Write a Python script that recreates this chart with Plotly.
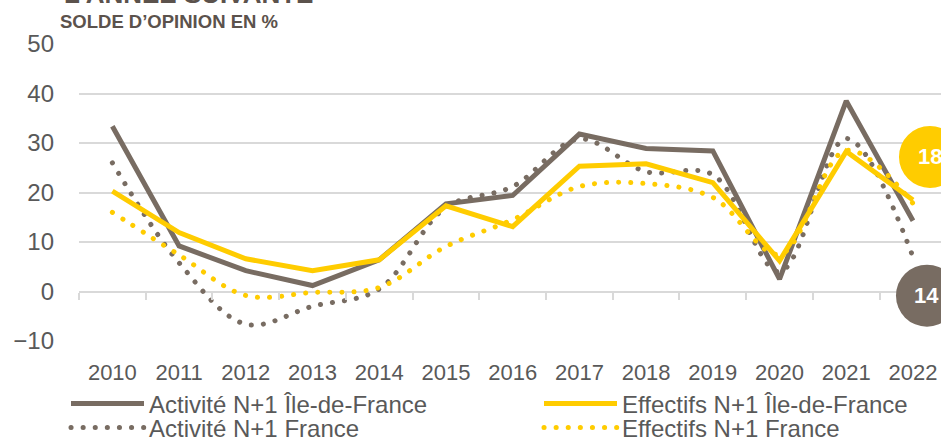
import plotly.graph_objects as go

years = ["2010", "2011", "2012", "2013", "2014", "2015", "2016",
         "2017", "2018", "2019", "2020", "2021", "2022"]
activite_idf = [33.4, 9.2, 4.2, 1.2, 6.4, 17.7, 19.4, 31.8, 28.9, 28.4, 2.5, 38.5, 14.3]
effectifs_idf = [20.3, 11.9, 6.6, 4.2, 6.4, 17.3, 13.1, 25.3, 25.8, 22.0, 6.2, 28.3, 18.5]
activite_fr = [26.0, 5.8, -6.6, -3.0, 0.5, 17.0, 21.2, 30.8, 24.2, 23.6, 4.0, 30.9, 7.0]
effectifs_fr = [16.0, 7.4, -0.8, -0.2, 0.8, 9.1, 14.5, 21.2, 21.8, 19.0, 7.5, 28.5, 17.8]

GRAY = "#786c62"
YELLOW = "#ffcc00"
TEXT = "#595959"
GRID = "#d9d9d9"
FONT = "Liberation Sans, Arial, sans-serif"
DOT = "0.1px,12px"

x = list(range(len(years)))

fig = go.Figure()
fig.add_trace(go.Scatter(x=x, y=activite_idf, mode="lines", name="Activité N+1 Île-de-France",
                         line=dict(color=GRAY, width=5), legend="legend"))
fig.add_trace(go.Scatter(x=x, y=activite_fr, mode="lines", name="Activité N+1 France",
                         line=dict(color=GRAY, width=5, dash=DOT, shape="spline", smoothing=1),
                         legend="legend2"))
fig.add_trace(go.Scatter(x=x, y=effectifs_idf, mode="lines", name="Effectifs N+1 Île-de-France",
                         line=dict(color=YELLOW, width=5), legend="legend3"))
fig.add_trace(go.Scatter(x=x, y=effectifs_fr, mode="lines", name="Effectifs N+1 France",
                         line=dict(color=YELLOW, width=5, dash=DOT, shape="spline", smoothing=1),
                         legend="legend4"))
# helper trace for the tick axis crossing at 0
fig.add_trace(go.Scatter(x=[0], y=[None], xaxis="x2", showlegend=False, hoverinfo="skip"))

last = len(years) - 1
# end-value bubbles
bubbles = [
    (effectifs_idf[-1], YELLOW, -14, 48, 12, 74),
    (activite_idf[-1], GRAY, -17, 45, -106, -44),
]
for val, col, x0, x1, y0, y1 in bubbles:
    fig.add_shape(type="circle", xref="x", yref="y", xsizemode="pixel", ysizemode="pixel",
                  xanchor=last, yanchor=val, x0=x0, x1=x1, y0=y0, y1=y1,
                  fillcolor=col, line=dict(width=0), layer="above")
    fig.add_annotation(x=last, y=val, xref="x", yref="y", text="<b>%d</b>" % int(val),
                       showarrow=False, xshift=(x0 + x1) / 2, yshift=(y0 + y1) / 2,
                       font=dict(family=FONT, size=22, color="white"))

fig.add_annotation(xref="paper", yref="paper", x=-0.0195, y=1.168, xanchor="left", yanchor="middle",
                   text="<b>L’ANNÉE SUIVANTE</b>", showarrow=False,
                   font=dict(family=FONT, size=26, color="#5b524c"))
fig.add_annotation(xref="paper", yref="paper", x=-0.024, y=1.077, xanchor="left", yanchor="middle",
                   text="<b>SOLDE D’OPINION EN %</b>", showarrow=False,
                   font=dict(family=FONT, size=18.5, color="#5b524c"))

legend_common = dict(orientation="h", xref="paper", yref="paper", xanchor="left",
                     yanchor="middle", bgcolor="rgba(0,0,0,0)", itemwidth=73,
                     font=dict(family=FONT, size=24, color=TEXT), tracegroupgap=0)

def lx(px):
    return (px - 79) / 862

def ly(px):
    return (341 - px) / 297

fig.update_layout(
    width=941, height=437,
    margin=dict(l=79, r=0, t=44, b=96, autoexpand=False),
    paper_bgcolor="white", plot_bgcolor="white",
    font=dict(family=FONT, color=TEXT),
    showlegend=True,
    legend=dict(x=lx(66), y=ly(404), **legend_common),
    legend2=dict(x=lx(66), y=ly(428), **legend_common),
    legend3=dict(x=lx(539), y=ly(404), **legend_common),
    legend4=dict(x=lx(539), y=ly(428), **legend_common),
    xaxis=dict(range=[-0.5, 12.42], tickvals=x, ticktext=years, ticks="", showline=False,
               showgrid=False, zeroline=False, ticklabelstandoff=16, automargin=False,
               tickfont=dict(family=FONT, size=22, color=TEXT)),
    xaxis2=dict(matches="x", overlaying="x", anchor="free", position=10 / 60,
                tickvals=[i - 0.5 for i in range(len(years) + 1)], ticks="outside",
                ticklen=7, tickwidth=2, tickcolor=GRID, showticklabels=False,
                showline=False, showgrid=False, zeroline=False, automargin=False),
    yaxis=dict(range=[-10, 50], dtick=10, tick0=0, showgrid=True, gridcolor=GRID, gridwidth=2,
               zeroline=False, showline=False, ticks="", ticklabelstandoff=24, automargin=False,
               tickfont=dict(family=FONT, size=24, color=TEXT)),
)

post = """
(function(){
  document.documentElement.style.margin = '0';
  document.body.style.margin = '0';
  document.body.style.padding = '0';
  var gd = document.getElementById('{plot_id}');
  function fix(){
    gd.querySelectorAll('path').forEach(function(p){
      var d = p.style.strokeDasharray || '';
      if (d.indexOf('0.1px') === 0) { p.style.strokeLinecap = 'round'; }
    });
  }
  fix();
  if (gd.on) { gd.on('plotly_afterplot', fix); }
})();
"""

fig.write_html("out.html", post_script=post, config={"displayModeBar": False})
